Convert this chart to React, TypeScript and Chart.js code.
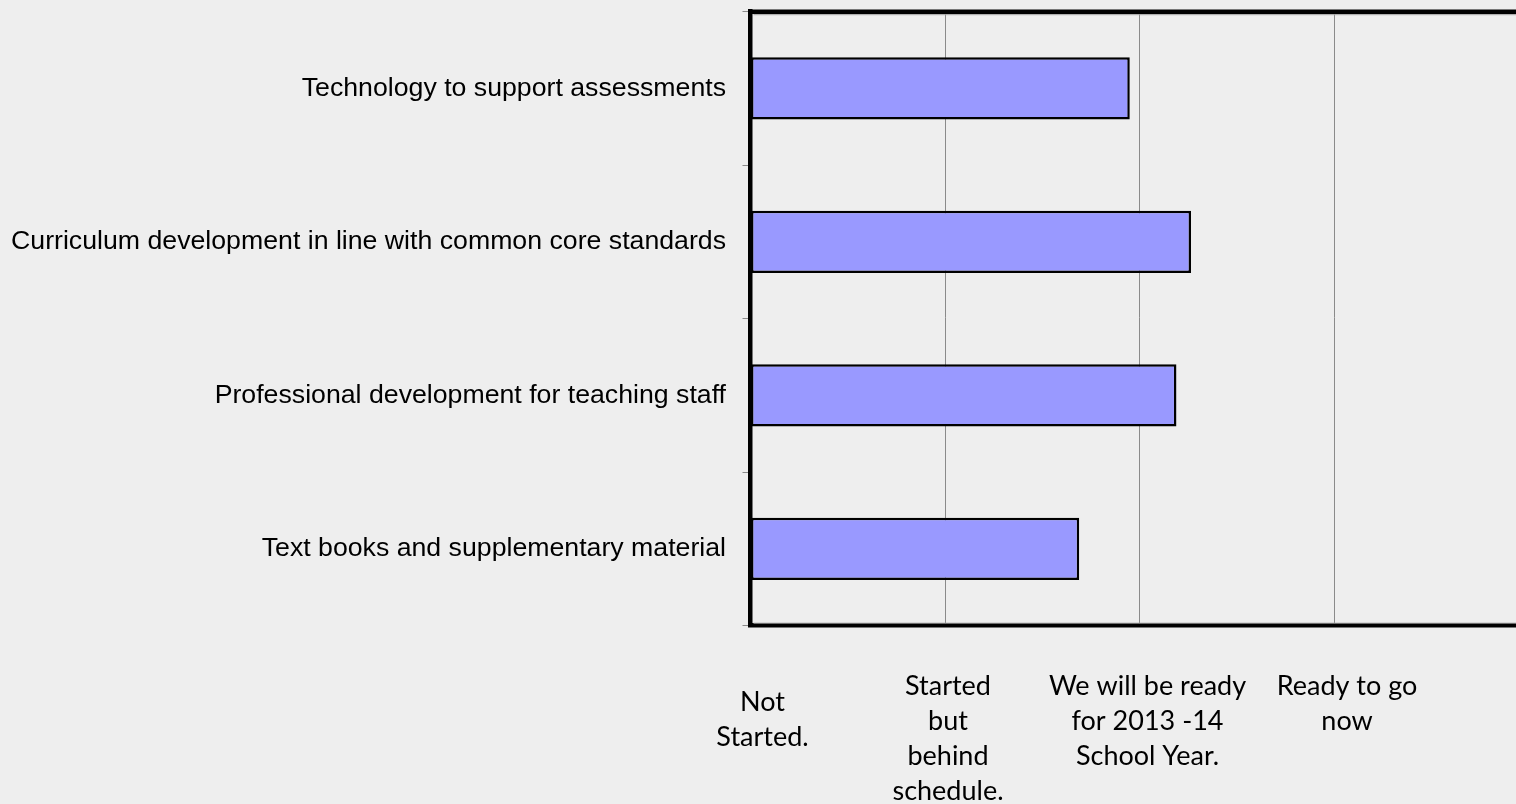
import React, { useEffect, useRef } from "react";
import { Chart, registerables } from "chart.js";

Chart.register(...registerables);

// ---- data ----
const categories: string[] = [
  "Technology to support assessments",
  "Curriculum development in line with common core standards",
  "Professional development for teaching staff",
  "Text books and supplementary material",
];
const readinessScores: number[] = [1.95, 2.265, 2.19, 1.69];
const xTickLabels: string[][] = [
  ["Not", "Started."],
  ["Started", "but", "behind", "schedule."],
  ["We will be ready", "for 2013 -14", "School Year."],
  ["Ready to go", "now"],
  [""],
];
const xMin = 0;
const xMax = 4;
const xStep = 1;

// per-label nudges mimicking the original's text placement
const labelDx = [12, 3, 8, 13, 0];
const labelDy = [16, 0, 0, 0, 0];

const labelNudge = {
  id: "labelNudge",
  beforeDraw(chart: any) {
    const s: any = chart.scales.x;
    const items = s.getLabelItems();
    items.forEach((it: any) => {
      if (it._nudged) return;
      it._nudged = true;
      const key = Array.isArray(it.label) ? it.label.join("|") : String(it.label);
      const idx = xTickLabels.findIndex((l) => l.join("|") === key);
      if (idx < 0) return;
      it.options.translation[0] += labelDx[idx];
      it.options.translation[1] += labelDy[idx];
    });
  },
};

const frame = {
  id: "frame",
  beforeDatasetsDraw(chart: any) {
    const { ctx, chartArea: a } = chart;
    ctx.save();
    ctx.strokeStyle = "#a0a0a0";
    ctx.lineWidth = 1;
    ctx.beginPath();
    ctx.moveTo(a.left + 3, a.top + 3);
    ctx.lineTo(a.right, a.top + 3);
    ctx.moveTo(a.left + 3, a.bottom - 2.5);
    ctx.lineTo(a.right, a.bottom - 2.5);
    ctx.stroke();
    ctx.restore();
  },
  afterDraw(chart: any) {
    const { ctx, chartArea: a } = chart;
    ctx.save();
    ctx.strokeStyle = "#000";
    ctx.lineWidth = 4.5;
    ctx.beginPath();
    ctx.moveTo(a.left - 2.25, a.top);
    ctx.lineTo(a.right + 2.25, a.top);
    ctx.stroke();
    ctx.restore();
  },
};

export default function App() {
  const ref = useRef<HTMLCanvasElement | null>(null);

  useEffect(() => {
    document.body.style.margin = "0";
    document.body.style.background = "#eeeeee";
    const canvas = ref.current;
    if (!canvas) return;
    const chart = new Chart(canvas, {
      type: "bar",
      data: {
        labels: categories,
        datasets: [
          {
            data: readinessScores,
            backgroundColor: "#9999ff",
            borderColor: "#000000",
            borderWidth: 2.5,
            borderSkipped: false,
            barPercentage: 0.405,
            categoryPercentage: 1,
          },
        ],
      },
      options: {
        indexAxis: "y",
        responsive: false,
        animation: false,
        layout: { padding: { left: 0, top: 11.7, right: 31.5, bottom: 0 } },
        plugins: {
          legend: { display: false },
          tooltip: { enabled: false },
        },
        scales: {
          x: {
            type: "linear",
            position: "bottom",
            min: xMin,
            max: xMax,
            afterFit: (scale: any) => {
              scale.height = 178.3;
              scale.paddingLeft = 0;
              scale.paddingRight = 0;
              scale.paddingTop = 0;
              scale.paddingBottom = 0;
            },
            ticks: {
              stepSize: xStep,
              autoSkip: false,
              maxRotation: 0,
              minRotation: 0,
              padding: 43,
              color: "#000000",
              font: { family: "Lato", size: 27, lineHeight: 35 / 27 },
              callback: (value: any) => xTickLabels[Number(value)] ?? "",
            },
            grid: {
              color: "#8a8a8a",
              lineWidth: 1,
              drawTicks: false,
            },
            border: { display: true, color: "#000000", width: 4.5 },
          },
          y: {
            type: "category",
            position: "left",
            afterFit: (scale: any) => {
              scale.width = 750.5;
              scale.paddingLeft = 0;
              scale.paddingRight = 0;
              scale.paddingTop = 0;
              scale.paddingBottom = 0;
            },
            ticks: {
              padding: 16.5,
              color: "#000000",
              font: { family: "'Liberation Sans', Arial, sans-serif", size: 26.7 },
            },
            grid: {
              display: true,
              drawOnChartArea: false,
              drawTicks: true,
              tickLength: 8,
              offset: true,
              color: "#8a8a8a",
            },
            border: { display: true, color: "#000000", width: 4.5 },
          },
        },
      },
      plugins: [labelNudge, frame],
    });
    return () => chart.destroy();
  }, []);

  return (
    <div
      style={{
        position: "relative",
        width: 1516,
        height: 804,
        overflow: "hidden",
        background: "#eeeeee",
      }}
    >
      <canvas ref={ref} width={1560} height={804} style={{ display: "block", width: 1560, height: 804 }} />
    </div>
  );
}
